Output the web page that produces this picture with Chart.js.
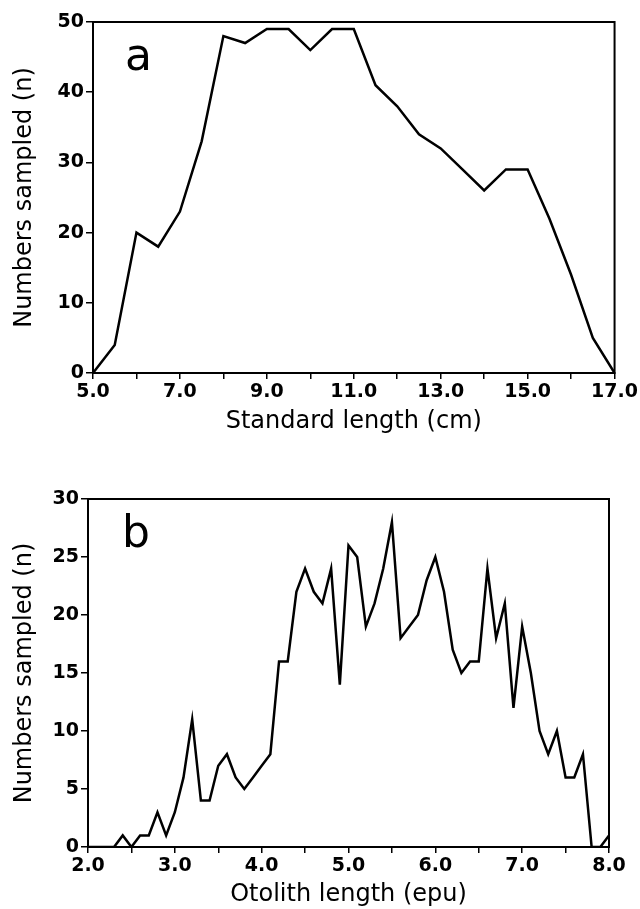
<!DOCTYPE html>
<html>
<head>
  <meta charset="utf-8">
  <title>Numbers sampled</title>
  <script src="https://cdn.jsdelivr.net/npm/chart.js"></script>
  <style>
    body { margin: 0; background: #fff; }
    canvas { position: absolute; left: 0; }
    #chartA { top: 0; }
    #chartB { top: 450px; }
  </style>
</head>
<body>
  <canvas id="chartA" width="640" height="440"></canvas>
  <canvas id="chartB" width="640" height="459"></canvas>

  <script>
    // panel a: standard length (cm)
    const standardLength = [5.0, 5.5, 6.0, 6.5, 7.0, 7.5, 8.0, 8.5, 9.0, 9.5, 10.0, 10.5, 11.0,
      11.5, 12.0, 12.5, 13.0, 13.5, 14.0, 14.5, 15.0, 15.5, 16.0, 16.5, 17.0];
    const countsA = [0, 4, 20, 18, 23, 33, 48, 47, 49, 49, 46, 49, 49,
      41, 38, 34, 32, 29, 26, 29, 29, 22, 14, 5, 0];

    // panel b: otolith length (epu)
    const otolithLength = [2.0, 2.1, 2.2, 2.3, 2.4, 2.5, 2.6, 2.7, 2.8, 2.9,
      3.0, 3.1, 3.2, 3.3, 3.4, 3.5, 3.6, 3.7, 3.8, 3.9,
      4.0, 4.1, 4.2, 4.3, 4.4, 4.5, 4.6, 4.7, 4.8, 4.9,
      5.0, 5.1, 5.2, 5.3, 5.4, 5.5, 5.6, 5.7, 5.8, 5.9,
      6.0, 6.1, 6.2, 6.3, 6.4, 6.5, 6.6, 6.7, 6.8, 6.9,
      7.0, 7.1, 7.2, 7.3, 7.4, 7.5, 7.6, 7.7, 7.8, 7.9, 8.0];
    const countsB = [0, 0, 0, 0, 1, 0, 1, 1, 3, 1,
      3, 6, 11, 4, 4, 7, 8, 6, 5, 6,
      7, 8, 16, 16, 22, 24, 22, 21, 24, 14,
      26, 25, 19, 21, 24, 28, 18, 19, 20, 23,
      25, 22, 17, 15, 16, 16, 24, 18, 21, 12,
      19, 15, 10, 8, 10, 6, 6, 8, 0, 0, 1];

    const FONT = '"DejaVu Sans", sans-serif';

    // box round the plot + panel letter
    const frame = {
      id: 'frame',
      afterDraw(chart, args, o) {
        const { ctx, chartArea: a } = chart;
        ctx.save();
        ctx.strokeStyle = '#000';
        ctx.lineWidth = 2;
        ctx.strokeRect(a.left, a.top, a.right - a.left, a.bottom - a.top);
        ctx.fillStyle = '#000';
        ctx.font = '44px ' + FONT;
        ctx.fillText(o.letter, a.left + o.dx, a.top + 48);
        ctx.restore();
      }
    };

    function makeChart(id, xs, ys, cfg) {
      const ctx = document.getElementById(id).getContext('2d');
      return new Chart(ctx, {
        type: 'line',
        data: {
          datasets: [{
            data: xs.map((x, i) => ({ x: x, y: ys[i] })),
            borderColor: '#000',
            borderWidth: 2.5,
            pointRadius: 0,
            tension: 0
          }]
        },
        options: {
          responsive: false,
          animation: false,
          layout: { padding: cfg.padding },
          plugins: {
            legend: { display: false },
            tooltip: { enabled: false },
            frame: { letter: cfg.letter, dx: cfg.dx }
          },
          scales: {
            x: {
              type: 'linear',
              min: cfg.xMin,
              max: cfg.xMax,
              afterFit: (s) => { s.height = cfg.xHeight; },
              border: { color: '#000', width: 2 },
              grid: { drawOnChartArea: false, drawTicks: true, tickLength: 6, color: '#000', lineWidth: 1.5 },
              ticks: {
                stepSize: cfg.xStep,
                autoSkip: false,
                maxRotation: 0,
                padding: 2,
                color: '#000',
                font: { family: FONT, size: 19, weight: 'bold' },
                callback: cfg.xLabel
              },
              title: {
                display: true,
                text: cfg.xTitle,
                color: '#000',
                font: { family: FONT, size: 24 },
                padding: { top: 0, bottom: cfg.xTitlePad }
              }
            },
            y: {
              min: 0,
              max: cfg.yMax,
              afterFit: (s) => { s.width = cfg.yWidth; },
              border: { color: '#000', width: 2 },
              grid: { drawOnChartArea: false, drawTicks: true, tickLength: 7, color: '#000', lineWidth: 1.5 },
              ticks: {
                stepSize: cfg.yStep,
                padding: 2,
                color: '#000',
                font: { family: FONT, size: 19, weight: 'bold' }
              },
              title: {
                display: true,
                text: 'Numbers sampled (n)',
                color: '#000',
                font: { family: FONT, size: 24 },
                padding: { top: 10, bottom: 0 }
              }
            }
          }
        },
        plugins: [frame]
      });
    }

    makeChart('chartA', standardLength, countsA, {
      letter: 'a', dx: 32,
      padding: { top: 22, right: 25, left: 0, bottom: 0 },
      xMin: 5, xMax: 17, xStep: 1, xHeight: 67, xTitlePad: 4,
      xLabel: (v) => ((v - 5) % 2 === 0 ? v.toFixed(1) : ''),
      xTitle: 'Standard length (cm)',
      yMax: 50, yStep: 10, yWidth: 93
    });

    makeChart('chartB', otolithLength, countsB, {
      letter: 'b', dx: 34,
      padding: { top: 49, right: 31, left: 0, bottom: 0 },
      xMin: 2, xMax: 8, xStep: 0.5, xHeight: 62, xTitlePad: 0,
      xLabel: (v) => (Number.isInteger(v) ? v.toFixed(1) : ''),
      xTitle: 'Otolith length (epu)',
      yMax: 30, yStep: 5, yWidth: 88
    });
  </script>
</body>
</html>
